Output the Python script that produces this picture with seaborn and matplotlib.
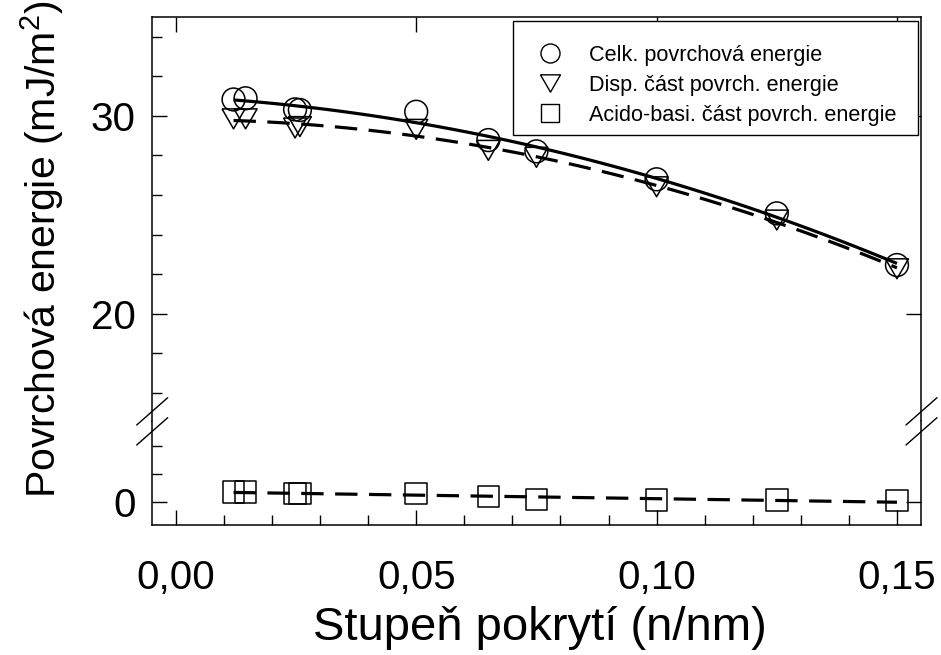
import numpy as np
import pandas as pd
import matplotlib
matplotlib.use("Agg")
import matplotlib.pyplot as plt
from matplotlib.lines import Line2D
from matplotlib.patches import Rectangle
from matplotlib.ticker import FixedLocator, MultipleLocator, FuncFormatter
import seaborn as sns

# Surface energy components vs. grafting density
coverage = [0.012, 0.0145, 0.0248, 0.0258, 0.050, 0.065, 0.075, 0.100, 0.125, 0.150]
total_energy = [30.82, 30.88, 30.32, 30.29, 30.20, 28.77, 28.20, 26.79, 25.07, 22.46]
dispersive_part = [29.84, 29.84, 29.38, 29.45, 29.31, 28.25, 27.90, 26.41, 24.73, 22.27]
acid_base_part = [0.70, 0.70, 0.58, 0.57, 0.58, 0.37, 0.15, 0.10, 0.10, 0.08]

series_labels = ["Celk. povrchová energie",
                 "Disp. část povrch. energie",
                 "Acido-basi. část povrch. energie"]
x_major_ticks = [0.00, 0.05, 0.10, 0.15]
upper_major_ticks = [20, 30]
lower_major_ticks = [0]

df = pd.DataFrame({
    "coverage": coverage,
    "total": total_energy,
    "disp": dispersive_part,
    "acid": acid_base_part,
})

sns.set_style("ticks")
plt.rcParams["font.family"] = ["Liberation Sans", "DejaVu Sans"]
plt.rcParams["mathtext.default"] = "regular"
plt.rcParams["xtick.direction"] = "in"
plt.rcParams["ytick.direction"] = "in"
plt.rcParams["text.color"] = "black"
plt.rcParams["axes.labelcolor"] = "black"

W, H = 941, 655
fig = plt.figure(figsize=(W / 100, H / 100), dpi=100)


def rect(left, top, right, bottom):
    return [left / W, 1 - bottom / H, (right - left) / W, (bottom - top) / H]


ax_top = fig.add_axes(rect(152.3, 16.7, 921, 421.3))
ax_bot = fig.add_axes(rect(152.3, 421.3, 921, 525.3), sharex=ax_top)

# equilateral, point-down triangle
tri_down = [(-1.0, 0.866), (1.0, 0.866), (0.0, -0.866), (-1.0, 0.866)]

marker_kw = dict(facecolor="none", edgecolor="black", linewidth=1.1, zorder=3)
line_w = 2.3
dash_pat = (7, 3.6)

# upper segment: total and dispersive components
sns.scatterplot(data=df, x="coverage", y="total", marker="o", s=270,
                ax=ax_top, **marker_kw)
sns.scatterplot(data=df, x="coverage", y="disp", marker=tri_down, s=275,
                ax=ax_top, **marker_kw)
sns.regplot(data=df, x="coverage", y="total", order=2, ci=None, scatter=False,
            truncate=True, color="black", ax=ax_top,
            line_kws=dict(lw=line_w, solid_capstyle="butt"))
sns.regplot(data=df, x="coverage", y="disp", order=2, ci=None, scatter=False,
            truncate=True, color="black", ax=ax_top,
            line_kws=dict(lw=line_w, dashes=dash_pat))

# lower segment: acid-base component
sns.scatterplot(data=df, x="coverage", y="acid", marker="s", s=243,
                ax=ax_bot, **marker_kw)
sns.regplot(data=df, x="coverage", y="acid", order=1, ci=None, scatter=False,
            truncate=True, color="black", ax=ax_bot,
            line_kws=dict(lw=line_w, dashes=dash_pat))

ax_top.set_xlim(-0.0049, 0.1550)
ax_top.set_ylim(14.57, 35.0)
ax_bot.set_ylim(-1.69, 5.74)

tick_fs = 29
for ax in (ax_top, ax_bot):
    ax.set_xlabel("")
    ax.set_ylabel("")
    for s in ax.spines.values():
        s.set_linewidth(1.1)
        s.set_color("black")
    ax.xaxis.set_major_locator(FixedLocator(x_major_ticks))
    ax.tick_params(which="major", length=11, width=1.0, color="black",
                   labelsize=tick_fs, labelcolor="black")
    ax.tick_params(which="minor", length=7, width=1.0, color="black")
    ax.tick_params(axis="y", which="major", left=True, right=True, pad=12)
    ax.tick_params(axis="y", which="minor", left=True, right=False)

ax_top.spines["bottom"].set_visible(False)
ax_bot.spines["top"].set_visible(False)

ax_top.yaxis.set_major_locator(FixedLocator(upper_major_ticks))
ax_top.yaxis.set_minor_locator(MultipleLocator(2))
ax_top.tick_params(axis="x", which="major", top=True, bottom=False,
                   labelbottom=False)
ax_top.tick_params(axis="x", which="minor", top=False, bottom=False)

ax_bot.yaxis.set_major_locator(FixedLocator(lower_major_ticks))
ax_bot.yaxis.set_minor_locator(MultipleLocator(2))
ax_bot.xaxis.set_minor_locator(MultipleLocator(0.01))
ax_bot.tick_params(axis="x", which="both", top=False, bottom=True)
ax_bot.tick_params(axis="x", which="major", pad=24)
ax_bot.xaxis.set_major_formatter(
    FuncFormatter(lambda v, p: f"{v:.2f}".replace(".", ",")))
ax_top.yaxis.set_major_formatter(FuncFormatter(lambda v, p: f"{v:.0f}"))
ax_bot.yaxis.set_major_formatter(FuncFormatter(lambda v, p: f"{v:.0f}"))

# axis titles
ax_bot.set_xlabel("Stupeň pokrytí (n/nm)", fontsize=34)
ax_bot.xaxis.set_label_coords(0.504, -0.775)
ax_top.set_ylabel("Povrchová energie (mJ/m$^2$)", fontsize=29.5)
ax_top.yaxis.set_label_coords(-0.112, 0.425)

# axis break marks on both vertical spines
for x0 in (136.7, 906.0):
    for y0 in (425.0, 445.0):
        fig.add_artist(Line2D([x0 / W, (x0 + 31) / W],
                              [1 - y0 / H, 1 - (y0 - 27.3) / H],
                              transform=fig.transFigure, color="black", lw=1.0))

# legend: entries plus a plain rectangular frame
handles = [
    Line2D([], [], ls="none", marker="o", ms=13.7, mfc="none", mec="black", mew=1.0),
    Line2D([], [], ls="none", marker=tri_down, ms=14.4, mfc="none", mec="black", mew=1.0),
    Line2D([], [], ls="none", marker="s", ms=13.0, mfc="none", mec="black", mew=1.0),
]
leg = ax_top.legend(handles, series_labels, loc="upper left",
                    bbox_to_anchor=(512.7 / W, 1 - 44.5 / H),
                    bbox_transform=fig.transFigure, fontsize=15.6,
                    frameon=False, borderpad=0, borderaxespad=0,
                    handlelength=3.47, handletextpad=0.05, labelspacing=0.42)
ax_top.add_patch(Rectangle((512.7 / W, 1 - 135 / H), (918.3 - 512.7) / W,
                           (135 - 21) / H, transform=fig.transFigure,
                           facecolor="white", edgecolor="black", lw=1.0,
                           zorder=4.5, clip_on=False))

fig.savefig("out.png", dpi=100)
